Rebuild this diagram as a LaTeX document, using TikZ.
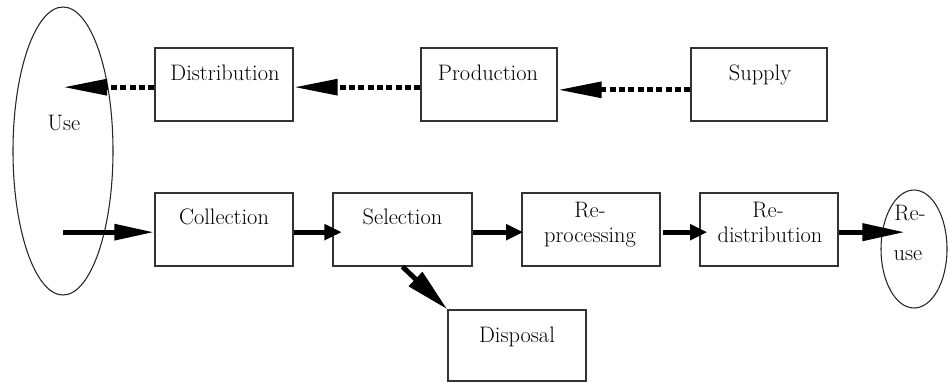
\documentclass[tikz,border=0pt]{standalone}
\usetikzlibrary{arrows.meta,calc,shapes.geometric}
\begin{document}
\begin{tikzpicture}[x=0.75pt,y=-0.75pt,
  box/.style={draw=black!80, line width=1pt, inner sep=0pt, minimum width=103.5pt, minimum height=54.75pt},
  oval/.style={draw=black!85, line width=0.8pt, ellipse, inner sep=0pt},
  lbl/.style={anchor=base, inner sep=0pt, font=\fontsize{16.8}{20}\selectfont},
  dotarr/.style={line width=3.75pt, dash pattern=on 4.5pt off 2.5pt, -{Triangle[length=33pt,width=11.5pt]}},
  solarr/.style={line width=3.75pt, -{Triangle[length=#1,width=11.5pt]}},
  solarr/.default=13pt]
\fill[white] (0,0) rectangle (948,383);
\useasboundingbox (0,0) rectangle (948,383);

% ovals
\node[oval, minimum width=75pt, minimum height=216pt] (use) at (63,151) {};
\node[oval, minimum width=49.5pt, minimum height=88.5pt] (reuse) at (914,249) {};

% top row boxes
\node[box] (dist) at (224,84.5) {};
\node[box, minimum width=102pt] (prod) at (489,84.5) {};
\node[box, minimum width=102pt] (supply) at (759,84.5) {};

% bottom row boxes
\node[box] (coll) at (224,229.5) {};
\node[box, minimum width=104.25pt] (sel) at (402.5,229.5) {};
\node[box] (reproc) at (591,229.5) {};
\node[box] (redist) at (769,229.5) {};
\node[box, minimum height=53.25pt] (disp) at (517,345.5) {};

% labels
\node[lbl] (tuse) at (64,130) {Use};
\node[lbl] (tdist) at (225,80) {Distribution};
\node[lbl] (tprod) at (488,80) {Production};
\node[lbl] (tsupply) at (760,80) {Supply};
\node[lbl] (tcoll) at (224,224) {Collection};
\node[lbl] (tsel) at (402.5,224) {Selection};
\node[lbl] (treproc1) at (590,217) {Re-};
\node[lbl] (treproc2) at (590,242) {processing};
\node[lbl] (tredist1) at (768,217) {Re-};
\node[lbl] (tredist2) at (770,242) {distribution};
\node[lbl] (treuse1) at (910,220) {Re-};
\node[lbl] (treuse2) at (908,260) {use};
\node[lbl] (tdisp) at (517,342) {Disposal};

% top dotted arrows
\draw[dotarr] ([yshift=-2pt]dist.west) -- ([yshift=-2pt]use.center |- dist.west);
\draw[dotarr] ([yshift=-2pt]prod.west) -- ([yshift=-2pt]dist.east);
\draw[dotarr] ([yshift=-4pt]supply.west) -- ([yshift=-4pt]prod.east);

% bottom solid arrows
\draw[solarr=30pt] ([yshift=-2pt]use.center |- coll.west) -- ([yshift=-2pt]coll.west);
\draw[solarr, shorten >=-7pt] ([yshift=-2pt]coll.east) -- ([yshift=-2pt]sel.west);
\draw[solarr, shorten >=-1.5pt] ([yshift=-2pt]sel.east) -- ([yshift=-2pt]reproc.west);
\draw[solarr, shorten >=-6pt, shorten <=2pt] ([yshift=-2pt]reproc.east) -- ([yshift=-2pt]redist.west);
\draw[line width=3.75pt, -{Triangle[length=32pt,width=12.5pt]}] ([yshift=-2pt]redist.east) -- ([yshift=-2pt,xshift=-6.75pt]reuse.center |- redist.east);
\draw[line width=3.75pt, -{Triangle[length=33pt,width=14pt]}] (sel.south) -- (disp.north west);
\end{tikzpicture}
\end{document}
